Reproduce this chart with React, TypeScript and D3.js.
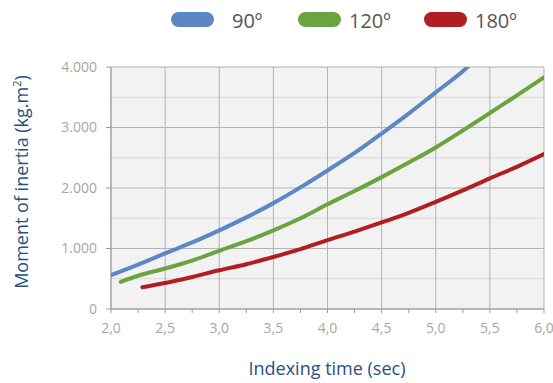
import React from "react";
import * as d3 from "d3";

const series = ["90º", "120º", "180º"];
const colors = ["#5b87c7", "#6aa43f", "#b01e23"];

const t90 = [2.0, 2.25, 2.5, 2.75, 3.0, 3.25, 3.5, 3.75, 4.0, 4.25, 4.5, 4.75, 5.0, 5.25, 5.35];
const v90 = [560, 735, 920, 1100, 1300, 1515, 1750, 2010, 2290, 2580, 2900, 3230, 3580, 3930, 4090];

const t120 = [2.09, 2.25, 2.5, 2.75, 3.0, 3.25, 3.5, 3.75, 4.0, 4.25, 4.5, 4.75, 5.0, 5.25, 5.5, 5.75, 6.0];
const v120 = [450, 550, 670, 800, 960, 1120, 1300, 1500, 1730, 1950, 2180, 2420, 2670, 2950, 3240, 3530, 3830];

const t180 = [2.29, 2.5, 2.75, 3.0, 3.25, 3.5, 3.75, 4.0, 4.25, 4.5, 4.75, 5.0, 5.25, 5.5, 5.75, 6.0];
const v180 = [360, 430, 530, 640, 740, 860, 990, 1140, 1280, 1430, 1590, 1770, 1960, 2160, 2350, 2560];

const xTicks = [2.0, 2.5, 3.0, 3.5, 4.0, 4.5, 5.0, 5.5, 6.0];
const yTicks = [0, 1000, 2000, 3000, 4000];

const FONT = "'Open Sans', 'Noto Sans', sans-serif";

export default function App() {
  const W = 553, H = 383;
  const x = d3.scaleLinear().domain([2, 6]).range([111, 544]);
  const y = d3.scaleLinear().domain([0, 4000]).range([309, 67]);
  const line = d3.line<[number, number]>().x(d => x(d[0])).y(d => y(d[1])).curve(d3.curveMonotoneX);
  const data = [
    t90.map((t, i) => [t, v90[i]] as [number, number]),
    t120.map((t, i) => [t, v120[i]] as [number, number]),
    t180.map((t, i) => [t, v180[i]] as [number, number]),
  ];
  const minorX = d3.range(2, 6.001, 0.25);
  const yGrid = d3.range(0, 4001, 500);
  const fmtY = (v: number) => v === 0 ? "0" : d3.format(",")(v).replace(",", ".");
  const fmtX = (v: number) => v.toFixed(1).replace(".", ",");
  const legendX = [171, 298, 424];
  return (
    <svg width={W} height={H} style={{ position: "absolute", left: 0, top: 0, fontFamily: FONT }}>
      <defs>
        <clipPath id="plot">
          <rect x={x(2)} y={y(4000)} width={x(6) - x(2)} height={y(0) - y(4000)} />
        </clipPath>
      </defs>
      <rect x={x(2)} y={y(4000)} width={x(6) - x(2)} height={y(0) - y(4000)} fill="#f2f2f2" />
      {yGrid.map(v => (
        <line key={"hy" + v} x1={x(2)} x2={x(6)} y1={y(v)} y2={y(v)}
          stroke={v % 1000 === 0 ? "#b3b3b3" : "#d9d9d9"} strokeWidth={1} />
      ))}
      {xTicks.map(t => (
        <line key={"vx" + t} x1={x(t)} x2={x(t)} y1={y(0)} y2={y(4000)} stroke="#b3b3b3" strokeWidth={1} />
      ))}
      <line x1={x(2)} x2={x(2)} y1={y(0)} y2={y(4000)} stroke="#999" />
      <line x1={x(2)} x2={x(6)} y1={y(0)} y2={y(0)} stroke="#999" />
      {minorX.map(t => (
        <line key={"mt" + t} x1={x(t)} x2={x(t)} y1={y(0)} y2={y(0) + 4} stroke="#999" />
      ))}
      {yTicks.map(v => (
        <line key={"yt" + v} x1={x(2) - 5} x2={x(2)} y1={y(v)} y2={y(v)} stroke="#999" />
      ))}
      {yTicks.map(v => (
        <text key={"yl" + v} x={97} y={y(v)} dy="0.35em" textAnchor="end" fontSize={14} fill="#a6a6a6">{fmtY(v)}</text>
      ))}
      {xTicks.map(t => (
        <text key={"xl" + t} x={x(t)} y={333} textAnchor="middle" fontSize={14} fill="#a6a6a6">{fmtX(t)}</text>
      ))}
      <g clipPath="url(#plot)">
        {data.map((d, i) => (
          <path key={series[i]} d={line(d) || ""} fill="none" stroke={colors[i]} strokeWidth={4} strokeLinecap="round" />
        ))}
      </g>
      {series.map((s, i) => (
        <g key={"lg" + s}>
          <rect x={legendX[i]} y={12} width={43} height={15} rx={7.5} fill={colors[i]} />
          <text x={legendX[i] + (i === 0 ? 61 : 51)} y={28} fontSize={20} fill="#555">{s}</text>
        </g>
      ))}
      <text x={327} y={375} textAnchor="middle" fontSize={18} fill="#2a4f7f">Indexing time (sec)</text>
      <text transform={`translate(28,182) rotate(-90)`} textAnchor="middle" fontSize={18} fill="#2a4f7f">
        Moment of inertia (kg.m<tspan dy={-7} fontSize={11}>2</tspan><tspan dy={7}>)</tspan>
      </text>
    </svg>
  );
}
